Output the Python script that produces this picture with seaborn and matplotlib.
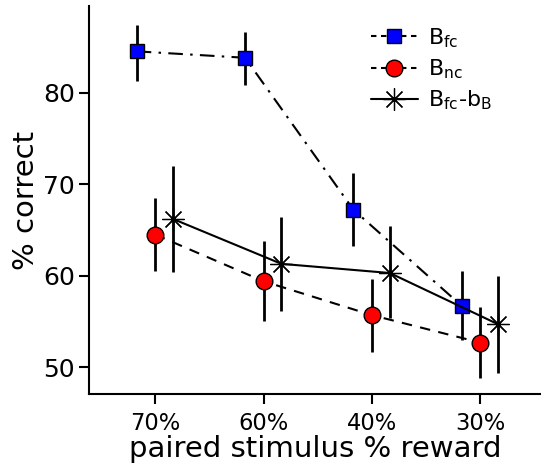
import matplotlib
matplotlib.use("Agg")
import matplotlib.pyplot as plt
import seaborn as sns
import pandas as pd
import numpy as np

categories = ["70%", "60%", "40%", "30%"]
bfc_mean = [84.5, 83.8, 67.2, 56.7]
bfc_lo = [81.3, 80.8, 63.2, 53.0]
bfc_hi = [87.4, 86.6, 71.2, 60.5]
bnc_mean = [64.5, 59.4, 55.7, 52.7]
bnc_lo = [60.5, 55.1, 51.7, 48.8]
bnc_hi = [68.5, 63.8, 59.7, 56.6]
bb_mean = [66.2, 61.3, 60.3, 54.7]
bb_lo = [60.4, 56.1, 55.4, 49.4]
bb_hi = [72.0, 66.4, 65.4, 60.0]
yticks = [50, 60, 70, 80]

sns.set_style("ticks", {"axes.edgecolor": "black", "text.color": "black",
                        "xtick.color": "black", "ytick.color": "black",
                        "axes.labelcolor": "black"})
plt.rcParams["font.family"] = ["DejaVu Sans"]
plt.rcParams["mathtext.default"] = "regular"

fig = plt.figure(figsize=(5.41, 4.70), dpi=100)
ax = fig.add_axes([0.1645, 0.1617, 0.8355, 0.8253])

base = np.arange(len(categories))
series = [
    ("B$_{fc}$", bfc_mean, bfc_lo, bfc_hi, -0.17, dict(marker="s", markersize=10.5, markerfacecolor="blue",
                                                        markeredgecolor="black", markeredgewidth=1.0,
                                                        dashes=(7, 3.5, 1.2, 3.5))),
    ("B$_{nc}$", bnc_mean, bnc_lo, bnc_hi, 0.0, dict(marker="o", markersize=12, markerfacecolor="red",
                                                      markeredgecolor="black", markeredgewidth=1.0,
                                                      dashes=(5, 4))),
    ("B$_{fc}$-b$_B$", bb_mean, bb_lo, bb_hi, 0.165, dict(marker=(8, 2, 0), markersize=16, markerfacecolor="black",
                                                          markeredgecolor="black", markeredgewidth=0.9,
                                                          dashes=(None, None))),
]

for label, m, lo, hi, off, st in series:
    xs = base + off
    df = pd.DataFrame({"x": xs, "y": m})
    err = np.array([np.array(m) - np.array(lo), np.array(hi) - np.array(m)])
    ax.errorbar(xs, m, yerr=err, fmt="none", ecolor="black", elinewidth=2.0, capsize=0, zorder=2)
    dashes = st.pop("dashes")
    sns.lineplot(data=df, x="x", y="y", ax=ax, color="black", linewidth=1.5,
                 label=label, zorder=3, **st)
    l = ax.get_lines()[-1]
    if dashes[0] is not None:
        l.set_dashes(dashes)

ax.set_xlim(-0.61, 3.56)
ax.set_ylim(47.09, 89.44)
ax.set_xticks(base)
ax.set_xticklabels(categories)
ax.set_yticks(yticks)
ax.tick_params(axis="x", labelsize=16.3, length=7, width=1.5, pad=6)
ax.tick_params(axis="y", labelsize=18, length=7, width=1.5, pad=3)
ax.set_xlabel("paired stimulus % reward", fontsize=21, labelpad=0)
ax.set_ylabel("% correct", fontsize=21, labelpad=2)
for s in ["top", "right"]:
    ax.spines[s].set_visible(False)
for s in ["left", "bottom"]:
    ax.spines[s].set_linewidth(1.5)

leg = ax.legend(loc="upper right", bbox_to_anchor=(0.935, 1.0), frameon=False, fontsize=16,
                handlelength=2.1, handletextpad=0.45, labelspacing=0.35)
lh = leg.get_lines()
lh[0].set_dashes((2.6, 2.2))
lh[1].set_dashes((2.6, 2.2))

fig.savefig("out.png", dpi=100)
